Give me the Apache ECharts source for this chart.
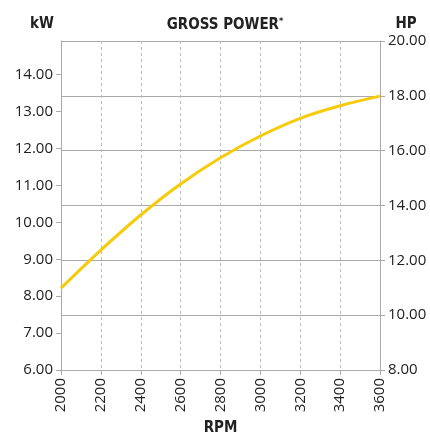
<!DOCTYPE html>
<html><head><meta charset="utf-8">
<script src="https://cdn.jsdelivr.net/npm/echarts@6/dist/echarts.min.js"></script>
<style>html,body{margin:0;padding:0;background:#fff}#c{width:430px;height:436px}</style>
</head><body><div id="c"></div>
<script>
const rpm = [2000, 2200, 2400, 2600, 2800, 3000, 3200, 3400, 3600];
const powerKw = [8.22, 9.25, 10.2, 11.04, 11.75, 12.34, 12.82, 13.16, 13.42];
const kwTicks = [6, 7, 8, 9, 10, 11, 12, 13, 14];
const hpTicks = [8, 10, 12, 14, 16, 18, 20];
const KW_PER_HP = 0.7457;

const chart = echarts.init(document.getElementById('c'));
const labelFont = {fontFamily: 'Open Sans', fontSize: 15, color: '#222'};
const boldFont = "'DejaVu Sans Condensed', 'Liberation Sans Narrow', 'Roboto', sans-serif";
chart.setOption({
  animation: false,
  grid: {left: 61, right: 50, top: 41, bottom: 66, containLabel: false, outerBoundsMode: 'none'},
  title: [
    {text: 'GROSS POWER{s|*}', left: 220, top: 12, textAlign: 'center',
     textStyle: {fontFamily: boldFont, fontSize: 15, fontWeight: 'bold', color: '#222',
       rich: {s: {fontFamily: boldFont, fontSize: 9, fontWeight: 'bold', verticalAlign: 'top', color: '#222', padding: [0,0,8,0]}}}},
    {text: 'kW', left: 37, top: 12, textAlign: 'center',
     textStyle: {fontFamily: boldFont, fontSize: 15, fontWeight: 'bold', color: '#222'}},
    {text: 'HP', left: 401, top: 12, textAlign: 'center',
     textStyle: {fontFamily: boldFont, fontSize: 15, fontWeight: 'bold', color: '#222'}}
  ],
  xAxis: {
    type: 'value', min: rpm[0], max: rpm[rpm.length - 1], interval: 200,
    name: 'RPM', nameLocation: 'middle', nameGap: 50,
    nameTextStyle: {fontFamily: boldFont, fontSize: 15, fontWeight: 'bold', color: '#222'},
    axisLine: {lineStyle: {color: '#aaa', width: 1}},
    axisTick: {show: true, length: 5, lineStyle: {color: '#aaa'}},
    axisLabel: Object.assign({rotate: 90, margin: 8, formatter: v => String(v)}, labelFont),
    splitLine: {show: true, lineStyle: {color: '#bbb', type: [3, 3], width: 1}}
  },
  yAxis: [
    {
      type: 'value', position: 'left', min: kwTicks[0], max: hpTicks[hpTicks.length - 1] * KW_PER_HP,
      axisLine: {show: true, lineStyle: {color: '#aaa'}},
      axisTick: {show: true, length: 5, customValues: kwTicks, lineStyle: {color: '#aaa'}},
      axisLabel: Object.assign({customValues: kwTicks, margin: 8, formatter: v => v.toFixed(2)}, labelFont),
      splitLine: {show: false}
    },
    {
      type: 'value', position: 'right', min: hpTicks[0], max: hpTicks[hpTicks.length - 1], interval: 2,
      axisLine: {show: true, lineStyle: {color: '#aaa'}},
      axisTick: {show: true, length: 5, lineStyle: {color: '#aaa'}},
      axisLabel: Object.assign({margin: 8, formatter: v => v.toFixed(2)}, labelFont),
      splitLine: {show: true, lineStyle: {color: '#aaa', width: 1}}
    }
  ],
  series: [{
    type: 'line', yAxisIndex: 0, smooth: 0.3, symbol: 'none',
    lineStyle: {color: '#F7CB0A', width: 3},
    data: rpm.map((r, i) => [r, powerKw[i]])
  }]
});
</script></body></html>
